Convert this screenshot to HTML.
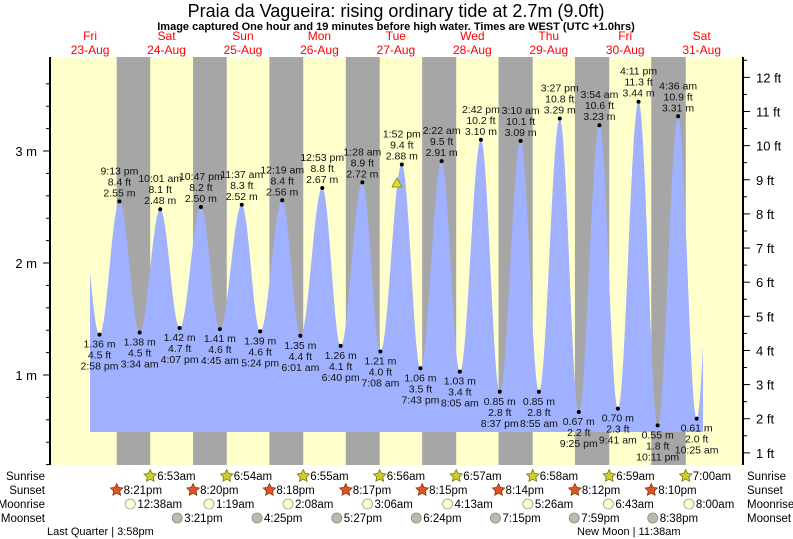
<!DOCTYPE html>
<html><head><meta charset="utf-8"><style>
body{margin:0;background:#fff;}
svg{display:block;font-family:"Liberation Sans",sans-serif;}
</style></head><body>
<svg id="s" width="793" height="539" xmlns="http://www.w3.org/2000/svg"></svg>
<script>
const M=128.3,D=76.45,Y0=487,PM=112;
const X=t=>M+t*D;const Y=m=>Y0-m*PM;
function tt(day,h,mi){return (day-24)+(h+mi/60)/24;}
function p(s){let [hm,ap]=s.split(' ');let [h,mi]=hm.split(':').map(Number);if(ap=='pm'&&h!=12)h+=12;if(ap=='am'&&h==12)h=0;return [h,mi];}
const raw=[[23,'2:58 pm',1.36],[23,'9:13 pm',2.55],[24,'3:34 am',1.38],[24,'10:01 am',2.48],[24,'4:07 pm',1.42],[24,'10:47 pm',2.50],[25,'4:45 am',1.41],[25,'11:37 am',2.52],[25,'5:24 pm',1.39],[26,'12:19 am',2.56],[26,'6:01 am',1.35],[26,'12:53 pm',2.67],[26,'6:40 pm',1.26],[27,'1:28 am',2.72],[27,'7:08 am',1.21],[27,'1:52 pm',2.88],[27,'7:43 pm',1.06],[28,'2:22 am',2.91],[28,'8:05 am',1.03],[28,'2:42 pm',3.10],[28,'8:37 pm',0.85],[29,'3:10 am',3.09],[29,'8:55 am',0.85],[29,'3:27 pm',3.29],[29,'9:25 pm',0.67],[30,'3:54 am',3.23],[30,'9:41 am',0.70],[30,'4:11 pm',3.44],[30,'10:11 pm',0.55],[31,'4:36 am',3.31],[31,'10:25 am',0.61]];
const ex=raw.map(r=>{let [h,mi]=p(r[1]);return {t:tt(r[0],h,mi),m:r[2],s:r[1]};});
const pts=[{t:ex[0].t-0.26,m:2.55},...ex,{t:ex[ex.length-1].t+0.26,m:3.4}];
function val(t){for(let i=0;i<pts.length-1;i++){if(t>=pts[i].t&&t<=pts[i+1].t){let f=(t-pts[i].t)/(pts[i+1].t-pts[i].t);return pts[i].m+(pts[i+1].m-pts[i].m)*(1-Math.cos(Math.PI*f))/2;}}return 0;}
let o='';
o+='<rect x="50" y="57" width="693" height="408" fill="#FFFFCC"/>';
const ss=[[23,20,21],[24,20,20],[25,20,18],[26,20,17],[27,20,15],[28,20,14],[29,20,12],[30,20,10]];
const sr=[[24,6,53],[25,6,54],[26,6,55],[27,6,56],[28,6,57],[29,6,58],[30,6,59],[31,7,0]];
for(let i=0;i<8;i++){let a=X(tt(...ss[i])),b=X(tt(...sr[i]));o+=`<rect x="${a}" y="57" width="${b-a}" height="408" fill="#A6A6A6"/>`;}
let d=`M90,432`;
for(let x=90;x<=703;x+=0.5){let t=(x-M)/D;d+=`L${x},${Y(val(t)).toFixed(1)}`;}
d+='L703,432Z';o+=`<path d="${d}" fill="#9FB1FF"/>`;
o+='<line x1="50" y1="57" x2="50" y2="465" stroke="#000" stroke-width="2"/><line x1="743" y1="57" x2="743" y2="465" stroke="#000" stroke-width="2"/>';
for(let m=0.2;m<=3.8;m+=0.2){let y=Y(m);if(y<57||y>465)continue;let maj=Math.abs(m-Math.round(m))<0.01;o+=`<line x1="${maj?43:46}" y1="${y}" x2="50" y2="${y}" stroke="#000"/>`;if(maj)o+=`<text x="37" y="${y+5}" font-size="13" text-anchor="end">${Math.round(m)} m</text>`;}
for(let f=0.5;f<=12.5;f+=0.5){let y=Y(f*0.3048);if(y<57||y>465)continue;let maj=f%1==0;o+=`<line x1="743" y1="${y}" x2="${maj?750:747}" y2="${y}" stroke="#000"/>`;if(maj)o+=`<text x="756" y="${y+5}" font-size="13">${f} ft</text>`;}
ex.forEach((e,i)=>{let x=X(e.t),y=Y(e.m);o+=`<circle cx="${x}" cy="${y}" r="2" fill="#000"/>`;let ft=(e.m/0.3048).toFixed(1)+' ft',mm=e.m.toFixed(2)+' m';
let L=i%2==0?[mm,ft,e.s]:[e.s,ft,mm];let ys=i%2==0?[y+13,y+24,y+35]:[y-27,y-16,y-5];
L.forEach((s,k)=>o+=`<text x="${x}" y="${ys[k]}" font-size="10.5" text-anchor="middle" fill="#111">${s}</text>`);});
o+='<polygon points="397,178 392,187 402,187" fill="#DDDD33" stroke="#888800" stroke-width="0.8"/>';
const dn=['Fri','Sat','Sun','Mon','Tue','Wed','Thu','Fri','Sat'];
for(let i=0;i<9;i++){let x=X(i-1+0.5);o+=`<text x="${x}" y="40" font-size="12" fill="#f00" text-anchor="middle">${dn[i]}</text><text x="${x}" y="54" font-size="12" fill="#f00" text-anchor="middle">${23+i}-Aug</text>`;}
o+='<text x="396" y="17" font-size="18" text-anchor="middle">Praia da Vagueira: rising  ordinary tide at 2.7m (9.0ft)</text>';
o+='<text x="396" y="30" font-size="11" font-weight="bold" text-anchor="middle">Image captured One hour and 19 minutes before high water. Times are WEST (UTC +1.0hrs)</text>';
const rows=['Sunrise','Sunset','Moonrise','Moonset'],ry=[476,490,504,518];
rows.forEach((r,i)=>{o+=`<text x="45" y="${ry[i]+4}" font-size="11.5" text-anchor="end">${r}</text><text x="747" y="${ry[i]+4}" font-size="11.5">${r}</text>`;});
function star(cx,cy,fill,st){let s='';for(let k=0;k<10;k++){let a=-Math.PI/2+k*Math.PI/5,r=k%2?3.2:6.5;s+=(cx+r*Math.cos(a)).toFixed(1)+','+(cy+r*Math.sin(a)).toFixed(1)+' ';}return `<polygon points="${s}" fill="${fill}" stroke="${st}" stroke-width="0.8"/>`;}
const f12=(h,m)=>((h%12)||12)+':'+String(m).padStart(2,'0')+(h<12?'am':'pm');
sr.forEach(a=>{let x=X(tt(...a));o+=star(x,ry[0],'#CCCC33','#777700')+`<text x="${x+7}" y="${ry[0]+4}" font-size="11.5">${f12(a[1],a[2])}</text>`;});
ss.forEach(a=>{let x=X(tt(...a));o+=star(x,ry[1],'#DD5522','#883311')+`<text x="${x+7}" y="${ry[1]+4}" font-size="11.5">${f12(a[1],a[2])}</text>`;});
const mr=[[24,0,38],[25,1,19],[26,2,8],[27,3,6],[28,4,13],[29,5,26],[30,6,43],[31,8,0]];
const ms=[[24,15,21],[25,16,25],[26,17,27],[27,18,24],[28,19,15],[29,19,59],[30,20,38]];
mr.forEach(a=>{let x=X(tt(...a));o+=`<circle cx="${x}" cy="${ry[2]}" r="5" fill="#FFFFCC" stroke="#999" stroke-width="0.8"/><text x="${x+7}" y="${ry[2]+4}" font-size="11.5">${f12(a[1],a[2])}</text>`;});
ms.forEach(a=>{let x=X(tt(...a));o+=`<circle cx="${x}" cy="${ry[3]}" r="5" fill="#BBBBAA" stroke="#888" stroke-width="0.8"/><text x="${x+7}" y="${ry[3]+4}" font-size="11.5">${f12(a[1],a[2])}</text>`;});
o+='<text x="47" y="535" font-size="11">Last Quarter | 3:58pm</text><text x="577" y="535" font-size="11">New Moon | 11:38am</text>';
document.getElementById('s').innerHTML=o;
</script>
</body></html>
